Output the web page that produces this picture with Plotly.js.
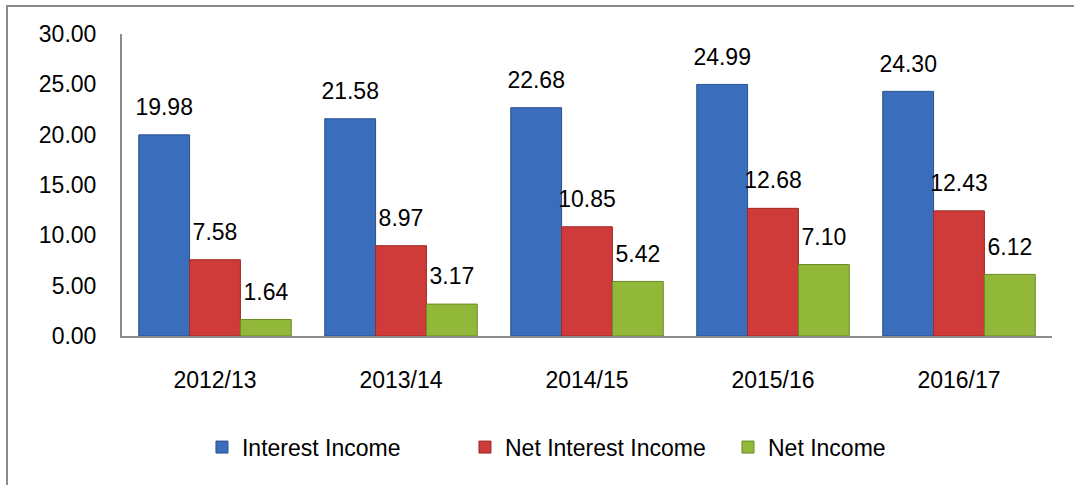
<!DOCTYPE html>
<html>
<head>
<meta charset="utf-8">
<script src="https://cdn.plot.ly/plotly-3.0.1.min.js"></script>
<style>
  html, body { margin: 0; padding: 0; background: #fff; }
  #wrap { position: relative; width: 1074px; height: 485px; overflow: hidden; }
  #chart { position: absolute; left: 0; top: 0; width: 1074px; height: 485px; }
  #frame { position: absolute; left: 6px; top: 5px; width: 1100px; height: 520px;
           border-left: 2px solid #8c8c8c; border-top: 2px solid #8c8c8c; pointer-events: none; }
</style>
</head>
<body>
<div id="wrap">
  <div id="chart"></div>
  <div id="frame"></div>
</div>
<script>
const years = ["2012/13", "2013/14", "2014/15", "2015/16", "2016/17"];
const interestIncome = [19.98, 21.58, 22.68, 24.99, 24.30];
const netInterestIncome = [7.58, 8.97, 10.85, 12.68, 12.43];
const netIncome = [1.64, 3.17, 5.42, 7.10, 6.12];
const seriesNames = ["Interest Income", "Net Interest Income", "Net Income"];
const yTicks = [0, 5, 10, 15, 20, 25, 30];

const FONT = "Liberation Sans, Arial, sans-serif";
const fills = ["#3b6dbd", "#cf3b39", "#92b83a"];
const edges = ["#2a5190", "#9c2a29", "#6b8a26"];
const seriesData = [interestIncome, netInterestIncome, netIncome];

const barTraces = seriesData.map((vals, i) => ({
  type: "bar",
  name: seriesNames[i],
  x: years,
  y: vals,
  offsetgroup: "g" + i,
  alignmentgroup: "all",
  marker: { color: fills[i], line: { color: edges[i], width: 1 } },
  hoverinfo: "x+y+name"
}));

const labelTraces = seriesData.map((vals, i) => ({
  type: "scatter",
  mode: "markers+text",
  x: years,
  y: vals,
  offsetgroup: "g" + i,
  alignmentgroup: "all",
  marker: { size: 21, opacity: 0, color: "#fff" },
  text: vals.map(v => v.toFixed(2)),
  textposition: "top center",
  textfont: { family: FONT, size: 23, color: "#000" },
  cliponaxis: false,
  showlegend: false,
  hoverinfo: "skip"
}));

const layout = {
  width: 1074,
  height: 485,
  margin: { l: 122, r: 22, t: 34, b: 149 },
  paper_bgcolor: "#fff",
  plot_bgcolor: "#fff",
  barmode: "group",
  bargap: 0.18,
  bargroupgap: 0,
  scattermode: "group",
  scattergap: 0.18,
  font: { family: FONT, size: 23, color: "#000" },
  xaxis: {
    type: "category",
    showline: true,
    linecolor: "#8c8c8c",
    linewidth: 2,
    ticks: "",
    ticklabelstandoff: 22,
    tickfont: { family: FONT, size: 23, color: "#000" },
    showgrid: false,
    zeroline: false
  },
  yaxis: {
    range: [0, 30],
    tickvals: yTicks,
    ticktext: yTicks.map(v => v.toFixed(2)),
    showline: true,
    linecolor: "#8c8c8c",
    linewidth: 2,
    ticks: "",
    ticklabelstandoff: 19,
    tickfont: { family: FONT, size: 23, color: "#000" },
    showgrid: false,
    zeroline: false
  },
  showlegend: true,
  legend: {
    orientation: "h",
    x: 0.086,
    xanchor: "left",
    y: -0.368,
    yanchor: "middle",
    font: { family: FONT, size: 23, color: "#000" },
    itemwidth: 30,
    entrywidth: 218,
    bgcolor: "rgba(0,0,0,0)"
  }
};

Plotly.newPlot("chart", barTraces.concat(labelTraces), layout, { displayModeBar: false, staticPlot: true });
</script>
</body>
</html>
